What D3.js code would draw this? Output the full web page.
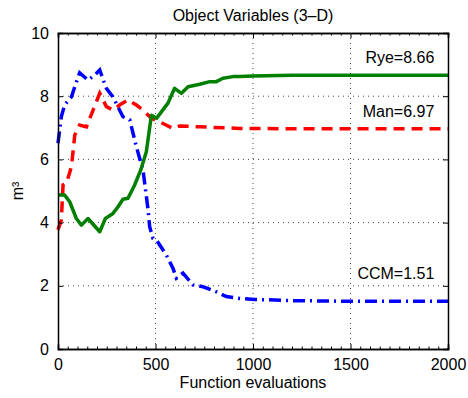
<!DOCTYPE html>
<html>
<head>
<meta charset="utf-8">
<script src="https://cdn.jsdelivr.net/npm/d3@7"></script>
<style>
  body { margin: 0; background: #fff; }
  text { font-family: "Liberation Sans", Arial, sans-serif; }
</style>
</head>
<body>
<div id="chart"></div>
<script>
// data
const ryeX = [0, 34, 60, 94, 120, 154, 214, 243, 282, 308, 333, 359, 393, 424, 453, 479, 505, 564, 598, 633, 667, 727, 778, 812, 846, 897, 931, 1000, 1200, 1500, 2000];
const ryeY = [4.87, 4.87, 4.66, 4.13, 3.92, 4.13, 3.71, 4.13, 4.29, 4.5, 4.74, 4.77, 5.19, 5.66, 6.24, 7.4, 7.3, 7.78, 8.25, 8.09, 8.3, 8.38, 8.46, 8.46, 8.57, 8.62, 8.62, 8.64, 8.66, 8.66, 8.66];

const manX = [0, 17, 26, 43, 69, 86, 111, 146, 180, 214, 248, 282, 316, 359, 402, 436, 479, 521, 590, 624, 727, 931, 1200, 1500, 2000];
const manY = [3.77, 4.08, 5.19, 5.24, 5.77, 6.77, 7.09, 7.03, 7.56, 8.09, 7.67, 7.56, 7.72, 7.88, 7.72, 7.56, 7.3, 7.19, 6.98, 7.06, 7.03, 6.98, 6.97, 6.97, 6.97];

const ccmX = [0, 17, 34, 69, 86, 111, 154, 188, 214, 248, 282, 333, 368, 402, 436, 462, 470, 487, 505, 556, 590, 607, 641, 692, 744, 812, 863, 932, 1009, 1200, 1500, 2000];
const ccmY = [6.51, 7.35, 7.72, 7.98, 8.3, 8.74, 8.51, 8.67, 8.83, 8.25, 7.98, 7.35, 7.25, 6.4, 5.66, 4.4, 3.87, 3.5, 3.45, 2.97, 2.55, 2.24, 2.4, 2.03, 1.97, 1.81, 1.66, 1.6, 1.57, 1.53, 1.51, 1.51];

const xTicks = [0, 500, 1000, 1500, 2000];
const yTicks = [0, 2, 4, 6, 8, 10];
const labels = ["Rye=8.66", "Man=6.97", "CCM=1.51"];
const labelY = [9.05, 7.35, 2.2];

const W = 468, H = 398;
const margin = { top: 33, right: 20, bottom: 49, left: 58 };
const width = W - margin.left - margin.right;
const height = H - margin.top - margin.bottom;

const svg = d3.select('#chart').append('svg')
  .attr('width', W)
  .attr('height', H);

const x = d3.scaleLinear().domain([0, 2000]).range([0, width]);
const y = d3.scaleLinear().domain([0, 10]).range([height, 0]);

const g = svg.append('g')
  .attr('transform', `translate(${margin.left},${margin.top})`);

// grid
g.append('g').selectAll('line').data(xTicks.slice(1, -1)).join('line')
  .attr('x1', d => x(d)).attr('x2', d => x(d))
  .attr('y1', 0).attr('y2', height)
  .attr('stroke', '#444').attr('stroke-width', 1).attr('stroke-dasharray', '1,4');
g.append('g').selectAll('line').data(yTicks.slice(1, -1)).join('line')
  .attr('y1', d => y(d)).attr('y2', d => y(d))
  .attr('x1', 0).attr('x2', width)
  .attr('stroke', '#444').attr('stroke-width', 1).attr('stroke-dasharray', '1,4');

// series
const line = d3.line().x(d => x(d[0])).y(d => y(d[1]));
const zip = (a, b) => a.map((v, i) => [v, b[i]]);

g.append('path').datum(zip(ccmX, ccmY))
  .attr('fill', 'none').attr('stroke', '#0000ff').attr('stroke-width', 3.5)
  .attr('stroke-dasharray', '12,5,2,5').attr('d', line);
g.append('path').datum(zip(manX, manY))
  .attr('fill', 'none').attr('stroke', '#ff0000').attr('stroke-width', 3.5)
  .attr('stroke-dasharray', '11,7').attr('d', line);
g.append('path').datum(zip(ryeX, ryeY))
  .attr('fill', 'none').attr('stroke', '#007f00').attr('stroke-width', 3.5)
  .attr('stroke-linejoin', 'round').attr('d', line);

// axes
g.append('g')
  .attr('transform', `translate(0,${height})`)
  .call(d3.axisBottom(x).tickValues(xTicks).tickSize(-5).tickPadding(10).tickFormat(d3.format('d')));
g.append('g')
  .call(d3.axisTop(x).tickValues(xTicks).tickSize(-5).tickFormat(''));
g.append('g')
  .call(d3.axisLeft(y).tickValues(yTicks).tickSize(-5).tickPadding(9));
g.append('g')
  .attr('transform', `translate(${width},0)`)
  .call(d3.axisRight(y).tickValues(yTicks).tickSize(-5).tickFormat(''));

// minor ticks
const minor = d3.range(0, 2001, 50).filter(d => d % 500 !== 0);
g.append('g').call(d3.axisBottom(x).tickValues(minor).tickSize(-2.5).tickFormat(''))
  .attr('transform', `translate(0,${height})`);
g.append('g').call(d3.axisTop(x).tickValues(minor).tickSize(-2.5).tickFormat(''));

g.selectAll('.domain').attr('stroke', '#000').attr('stroke-width', 1.5);
g.selectAll('.tick line').attr('stroke', '#000');
g.selectAll('.tick text').attr('font-size', 16).attr('fill', '#000')
  .style('font-family', '"Liberation Sans", Arial, sans-serif');

// series labels
g.append('g').selectAll('text').data(labels).join('text')
  .attr('x', x(1930))
  .attr('y', (d, i) => y(labelY[i]))
  .attr('text-anchor', 'end')
  .attr('font-size', 16)
  .text(d => d);

// titles
svg.append('text')
  .attr('x', margin.left + width / 2).attr('y', 21)
  .attr('text-anchor', 'middle').attr('font-size', 16)
  .text('Object Variables (3–D)');
svg.append('text')
  .attr('x', margin.left + width / 2).attr('y', 388)
  .attr('text-anchor', 'middle').attr('font-size', 16)
  .text('Function evaluations');
svg.append('text')
  .attr('transform', `translate(23,${margin.top + height / 2}) rotate(-90)`)
  .attr('text-anchor', 'middle').attr('font-size', 16)
  .text('m³');
</script>
</body>
</html>
